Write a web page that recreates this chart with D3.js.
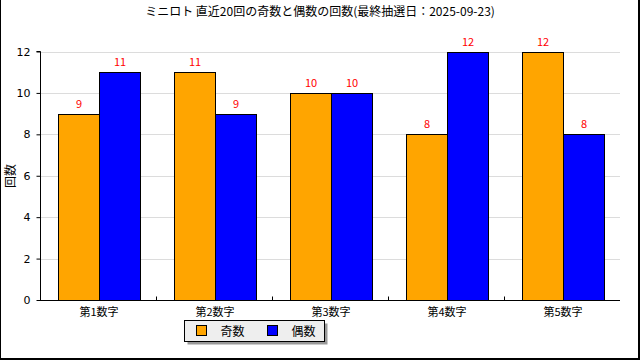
<!DOCTYPE html>
<html><head><meta charset="utf-8">
<script src="https://cdn.jsdelivr.net/npm/d3@7"></script>
<style>body{margin:0;background:#fff}svg{display:block}text{font-family:"Noto Sans CJK JP","DejaVu Sans",sans-serif}</style>
</head><body><svg id="c" width="640" height="360"></svg>
<script>
const categories = ["第1数字","第2数字","第3数字","第4数字","第5数字"];
const oddValues = [9, 11, 10, 8, 12];
const evenValues = [11, 9, 10, 12, 8];
const seriesNames = ["奇数","偶数"];
const seriesColors = ["#FFA500","#0000FF"];
const yTicks = [0,2,4,6,8,10,12];
const title = "ミニロト 直近20回の奇数と偶数の回数(最終抽選日：2025-09-23)";

const svg = d3.select("#c");
const L = 40, R = 620, T = 51.5, B = 300;
const x = d3.scaleBand().domain(categories).range([L + 1, R + 1]).paddingInner(0.2931).paddingOuter(0.2931 / 2);
const xs = d3.scaleBand().domain([0,1]).range([0, x.bandwidth()]);
const y = d3.scaleLinear().domain([0, 12]).range([B, T]);

// frame
svg.append("line").attr("x1",0.5).attr("y1",0).attr("x2",0.5).attr("y2",360).attr("stroke","#000");
svg.append("line").attr("x1",639).attr("y1",0).attr("x2",639).attr("y2",360).attr("stroke","#000").attr("stroke-width",2);
svg.append("line").attr("x1",0).attr("y1",359).attr("x2",640).attr("y2",359).attr("stroke","#000").attr("stroke-width",2);

svg.append("text").attr("x",320).attr("y",16).attr("text-anchor","middle").attr("font-size",12).text(title);

// grid
svg.append("g").selectAll("line").data(yTicks.filter(d=>d>0)).join("line")
  .attr("x1",L).attr("x2",R).attr("y1",d=>Math.round(y(d))+0.5).attr("y2",d=>Math.round(y(d))+0.5)
  .attr("stroke","#dcdcdc");

const data = categories.map((c,i)=>[oddValues[i], evenValues[i]]);
const g = svg.append("g").selectAll("g").data(data).join("g")
  .attr("transform",(d,i)=>`translate(${Math.round(x(categories[i]))},0)`);
g.selectAll("rect").data(d=>d).join("rect")
  .attr("x",(d,j)=>Math.round(xs(j))+0.5).attr("width",Math.round(xs.bandwidth()))
  .attr("y",d=>Math.round(y(d))+0.5).attr("height",d=>B-Math.round(y(d)))
  .attr("fill",(d,j)=>seriesColors[j]).attr("stroke","#000");
g.selectAll("text").data(d=>d).join("text")
  .attr("x",(d,j)=>xs(j)+xs.bandwidth()/2+0.5).attr("y",d=>y(d)-6)
  .attr("text-anchor","middle").attr("font-size",11).attr("fill","#ff0000").text(d=>d);

// y axis
const ya = svg.append("g").attr("transform",`translate(${L+0.5},0)`)
  .call(d3.axisLeft(y).tickValues(yTicks).tickSize(4).tickPadding(6));
ya.selectAll("text").attr("font-size",11).attr("fill","#000").style("font-family","'DejaVu Sans',sans-serif");
ya.select(".domain").attr("d",`M-4,${T}H0V${B}`);

// x axis
const xa = svg.append("g").attr("transform",`translate(0,${B+0.5})`);
xa.append("line").attr("x1",L).attr("x2",R).attr("stroke","#000");
xa.selectAll("line.t").data(d3.range(1,5)).join("line").attr("class","t")
  .attr("x1",d=>L+d*(R-L)/5+0.5).attr("x2",d=>L+d*(R-L)/5+0.5).attr("y1",0).attr("y2",-4).attr("stroke","#000");
xa.selectAll("text").data(categories).join("text")
  .attr("x",d=>x(d)+x.bandwidth()/2).attr("y",15).attr("text-anchor","middle").attr("font-size",11).text(d=>d);

svg.append("text").attr("transform","translate(15,176) rotate(-90)").attr("text-anchor","middle").attr("font-size",12).text("回数");

// legend
const lg = svg.append("g").attr("transform","translate(184.5,320.5)");
lg.append("rect").attr("x",3).attr("y",3).attr("width",140).attr("height",21).attr("fill","#999");
lg.append("rect").attr("width",140).attr("height",21).attr("fill","#eeeeee").attr("stroke","#000");
const items = lg.selectAll("g").data(seriesNames).join("g").attr("transform",(d,i)=>`translate(${12+i*71},5)`);
items.append("rect").attr("width",10).attr("height",10).attr("fill",(d,i)=>seriesColors[i]).attr("stroke","#000");
items.append("text").attr("x",24).attr("y",10).attr("font-size",12).text(d=>d);
</script></body></html>
